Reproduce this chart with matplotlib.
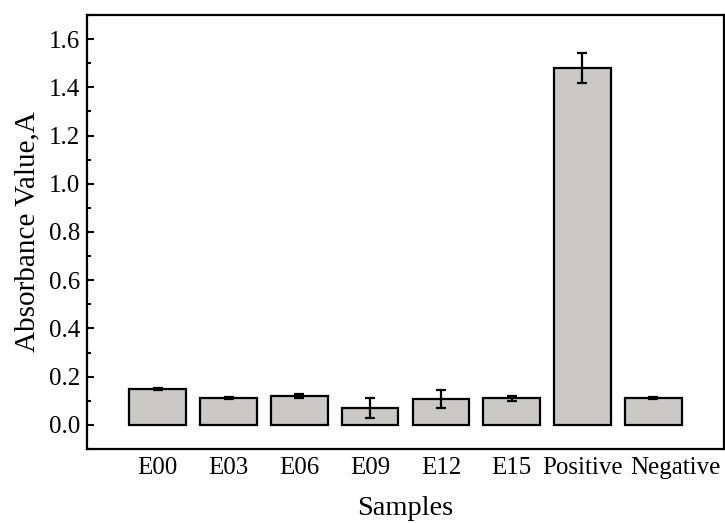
import numpy as np
import matplotlib.pyplot as plt
import matplotlib.transforms as mtransforms
from matplotlib.ticker import MultipleLocator

plt.rcParams['font.family'] = ['Liberation Serif', 'DejaVu Serif']

samples = ['E00', 'E03', 'E06', 'E09', 'E12', 'E15', 'Positive', 'Negative']
absorbance = [0.150, 0.110, 0.120, 0.069, 0.108, 0.110, 1.479, 0.110]
errors = [0.005, 0.004, 0.010, 0.042, 0.037, 0.010, 0.062, 0.004]

fig = plt.figure(figsize=(7.25, 5.23), dpi=100)
ax = fig.add_axes([87 / 725, 74 / 523, 637 / 725, 434 / 523])

index = np.arange(1, len(samples) + 1)
ax.bar(index, absorbance, 0.8, color='#cac9c5', edgecolor='black', linewidth=1.6,
       yerr=errors, error_kw=dict(ecolor='black', elinewidth=1.6, capsize=3.3, capthick=1.6))

ax.set_xlim(0, 9)
ax.set_ylim(-0.1, 1.7)
ax.set_xticks(index)
ax.set_xticklabels(samples)
ax.yaxis.set_major_locator(MultipleLocator(0.2))
ax.yaxis.set_minor_locator(MultipleLocator(0.1))
ax.yaxis.set_major_formatter(plt.FormatStrFormatter('%.1f'))

ax.tick_params(axis='both', labelsize=18)
ax.tick_params(axis='y', which='major', length=5, width=1.5, direction='in', pad=5)
ax.tick_params(axis='y', which='minor', length=3, width=1.5, direction='in')
ax.tick_params(axis='x', length=0, pad=6)

# last label sits a little to the right so it doesn't run into "Positive"
last = ax.get_xticklabels()[-1]
last.set_transform(last.get_transform() + mtransforms.ScaledTranslation(0.22, 0, fig.dpi_scale_trans))

for spine in ax.spines.values():
    spine.set_linewidth(1.6)

ax.set_xlabel('Samples', fontsize=20.5, labelpad=12)
ax.set_ylabel('Absorbance Value,A', fontsize=21, labelpad=6)

fig.savefig('out.png', dpi=100)
